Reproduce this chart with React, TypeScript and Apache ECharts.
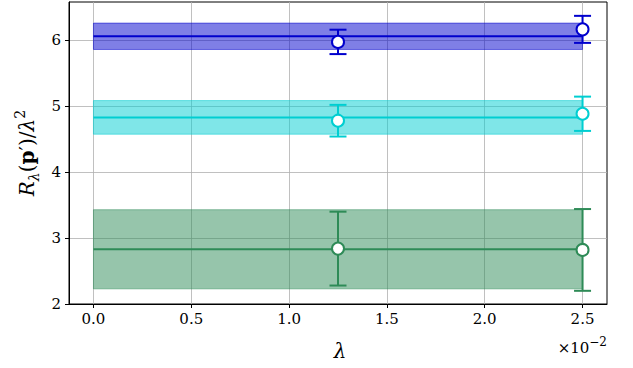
import React, { useEffect, useRef } from "react";
import * as echarts from "echarts";

const xTickValues = [0, 0.5, 1.0, 1.5, 2.0, 2.5];
const yTickValues = [2, 3, 4, 5, 6];
const pointX = [1.25, 2.5];
const bandRange = [0, 2.5];

const blueCenter = 6.06;
const blueHalf = 0.2;
const blueValues = [5.975, 6.165];
const blueErrors = [0.185, 0.205];

const cyanCenter = 4.83;
const cyanHalf = 0.255;
const cyanValues = [4.78, 4.885];
const cyanErrors = [0.24, 0.26];

const greenCenter = 2.83;
const greenHalf = 0.6;
const greenValues = [2.84, 2.82];
const greenErrors = [0.56, 0.62];

const FONT = "DejaVu Serif";

const groups = [
  { name: "blue", color: "#0000CD", band: "rgba(0,0,205,0.5)", center: blueCenter, half: blueHalf, values: blueValues, errors: blueErrors },
  { name: "cyan", color: "#00CED1", band: "rgba(0,206,209,0.5)", center: cyanCenter, half: cyanHalf, values: cyanValues, errors: cyanErrors },
  { name: "green", color: "#2E8B57", band: "rgba(46,139,87,0.5)", center: greenCenter, half: greenHalf, values: greenValues, errors: greenErrors },
];

export default function App() {
  const ref = useRef<HTMLDivElement>(null);
  useEffect(() => {
    if (!ref.current) return;
    const chart = echarts.init(ref.current, undefined, { renderer: "svg" });
    const series: any[] = [];
    groups.forEach((g) => {
      series.push({
        type: "custom",
        name: g.name + "-band",
        z: 1,
        silent: true,
        data: [[bandRange[0], bandRange[1], g.center - g.half, g.center + g.half]],
        renderItem: (params: any, api: any) => {
          const p0 = api.coord([api.value(0), api.value(3)]);
          const p1 = api.coord([api.value(1), api.value(2)]);
          return {
            type: "rect",
            shape: { x: p0[0], y: p0[1], width: p1[0] - p0[0], height: p1[1] - p0[1] },
            style: { fill: g.band, stroke: g.band, lineWidth: 1 },
          };
        },
      });
      series.push({
        type: "line",
        name: g.name + "-line",
        z: 2,
        silent: true,
        symbol: "none",
        data: [[bandRange[0], g.center], [bandRange[1], g.center]],
        lineStyle: { color: g.color, width: 2 },
      });
      series.push({
        type: "custom",
        name: g.name + "-err",
        z: 3,
        silent: true,
        data: pointX.map((x, i) => [x, g.values[i], g.errors[i]]),
        renderItem: (params: any, api: any) => {
          const x = api.value(0);
          const y = api.value(1);
          const e = api.value(2);
          const top = api.coord([x, y + e]);
          const bot = api.coord([x, y - e]);
          const cap = 8.5;
          const st = { stroke: g.color, lineWidth: 2 };
          return {
            type: "group",
            children: [
              { type: "line", shape: { x1: top[0], y1: top[1], x2: bot[0], y2: bot[1] }, style: st },
              { type: "line", shape: { x1: top[0] - cap, y1: top[1], x2: top[0] + cap, y2: top[1] }, style: st },
              { type: "line", shape: { x1: bot[0] - cap, y1: bot[1], x2: bot[0] + cap, y2: bot[1] }, style: st },
            ],
          };
        },
      });
      series.push({
        type: "scatter",
        name: g.name + "-pts",
        z: 4,
        silent: true,
        symbol: "circle",
        symbolSize: 12,
        data: pointX.map((x, i) => [x, g.values[i]]),
        itemStyle: { color: "#ffffff", borderColor: g.color, borderWidth: 2, opacity: 1 },
      });
    });

    chart.setOption({
      animation: false,
      textStyle: { fontFamily: FONT },
      grid: {
        left: 69,
        top: 2,
        right: 26,
        bottom: 64,
        show: true,
        borderColor: "#000",
        borderWidth: 1,
        backgroundColor: "transparent",
        containLabel: false,
        outerBoundsMode: "none",
      },
      xAxis: {
        type: "value",
        min: -0.125,
        max: 2.625,
        axisLine: { show: true, onZero: false, lineStyle: { color: "#000", width: 1 } },
        axisTick: { show: true, length: 4, lineStyle: { color: "#000", width: 1 }, customValues: xTickValues },
        axisLabel: {
          customValues: xTickValues,
          formatter: (v: number) => v.toFixed(1),
          color: "#000",
          fontFamily: FONT,
          fontSize: 15,
          margin: 7,
        },
        splitLine: { show: true, lineStyle: { color: "#b0b0b0", width: 0.8 } },
      },
      yAxis: {
        type: "value",
        min: 2,
        max: 6.58,
        interval: 1,
        axisLine: { show: true, onZero: false, lineStyle: { color: "#000", width: 1 } },
        axisTick: { show: true, length: 4, lineStyle: { color: "#000", width: 1 }, customValues: yTickValues },
        axisLabel: {
          customValues: yTickValues,
          formatter: (v: number) => String(Math.round(v)),
          color: "#000",
          fontFamily: FONT,
          fontSize: 15,
          margin: 8,
        },
        splitLine: { show: true, lineStyle: { color: "#b0b0b0", width: 0.8 } },
      },
      graphic: [
        {
          type: "text",
          x: 27,
          y: 153,
          rotation: Math.PI / 2,
          style: {
            text: "{i|R}{sub|λ}{n|(}{b|p}{n|′)/}{i|λ}{sup|2}",
            align: "center",
            verticalAlign: "middle",
            fill: "#000",
            rich: {
              i: { fontFamily: FONT, fontStyle: "italic", fontSize: 20, lineHeight: 28, fill: "#000" },
              n: { fontFamily: FONT, fontSize: 20, lineHeight: 28, fill: "#000" },
              b: { fontFamily: FONT, fontWeight: "bold", fontSize: 20, lineHeight: 28, fill: "#000" },
              sub: { fontFamily: FONT, fontStyle: "italic", fontSize: 14, lineHeight: 14, verticalAlign: "bottom", fill: "#000" },
              sup: { fontFamily: FONT, fontSize: 14, lineHeight: 14, verticalAlign: "top", fill: "#000" },
            },
          },
        },
        {
          type: "text",
          x: 340,
          y: 351,
          style: {
            text: "λ",
            align: "center",
            verticalAlign: "middle",
            fontFamily: FONT,
            fontStyle: "italic",
            fontSize: 20,
            fill: "#000",
          },
        },
        {
          type: "text",
          x: 607,
          y: 348,
          style: {
            text: "{n|×10}{sup|−2}",
            align: "right",
            verticalAlign: "middle",
            fill: "#000",
            rich: {
              n: { fontFamily: FONT, fontSize: 15, lineHeight: 24, fill: "#000" },
              sup: { fontFamily: FONT, fontSize: 12, lineHeight: 12, verticalAlign: "top", fill: "#000" },
            },
          },
        },
      ],
      series,
    });
    return () => chart.dispose();
  }, []);
  return (
    <div
      ref={ref}
      style={{ position: "fixed", left: 0, top: 0, width: 633, height: 368, background: "#fff" }}
    />
  );
}
